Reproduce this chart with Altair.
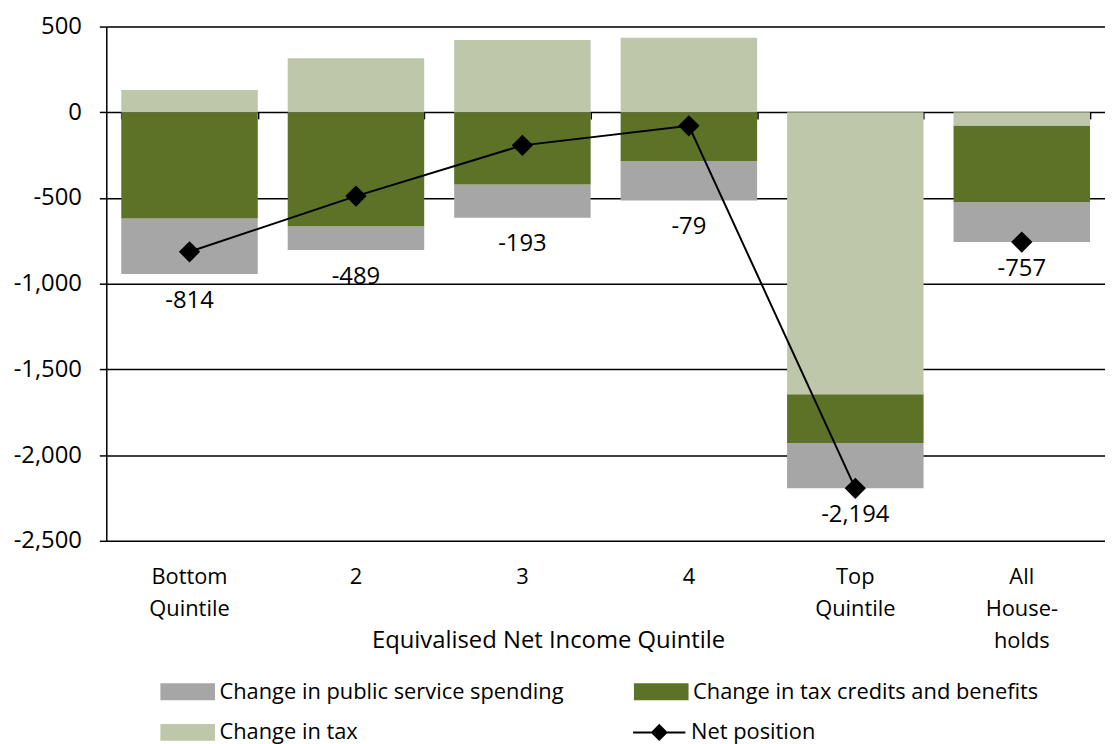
import altair as alt
import pandas as pd

categories = ["Bottom\nQuintile", "2", "3", "4", "Top\nQuintile", "All\nHouse-\nholds"]
series_names = ["Change in public service spending", "Change in tax credits and benefits", "Change in tax"]
series_colors = ["#A6A6A6", "#5B7227", "#BEC7AA"]
# stacking order from zero outward: tax, credits, spending
stack_rank = {"Change in tax": 0, "Change in tax credits and benefits": 1, "Change in public service spending": 2}

tax = [130, 315, 422, 435, -1645, -77]
credits = [-620, -665, -422, -284, -285, -447]
spending = [-324, -139, -193, -230, -264, -233]
net = [-814, -489, -193, -79, -2194, -757]
# the net-position line joins the five quintiles only
line_categories = categories[:5]

rows = []
for i, c in enumerate(categories):
    for s, vals in zip(series_names, [spending, credits, tax]):
        rows.append({"category": c, "series": s, "value": vals[i], "rank": stack_rank[s]})
bars_df = pd.DataFrame(rows)

net_df = pd.DataFrame({
    "category": categories,
    "net": net,
    "name": ["Net position"] * len(categories),
    "label": [f"{v:,}" for v in net],
    "bottom": [sum(min(v, 0) for v in (tax[i], credits[i], spending[i])) for i in range(len(categories))],
})
line_df = net_df[net_df["category"].isin(line_categories)]

FONT = "Open Sans"
y_scale = alt.Scale(domain=[-2500, 500], nice=False, zero=False)
x_scale = alt.Scale(paddingInner=0.18, paddingOuter=0.09)
y_axis = alt.Axis(
    values=[500, 0, -500, -1000, -1500, -2000, -2500],
    labelExpr="replace(format(datum.value, ',.0f'), '\u2212', '-')",
    grid=True, gridColor="black", gridWidth=1.5,
    domain=True, domainColor="black", domainWidth=1.5,
    ticks=True, tickColor="black", tickSize=7, tickWidth=1.5,
    labelFontSize=24, labelFont=FONT, labelColor="black", labelPadding=18,
    title=None,
)

bar_symbol = "M-3.235,-1H3.235V1H-3.235Z"
net_symbol = "M-3.1,0H3.1M0,-0.85L0.85,0L0,0.85L-0.85,0Z"

bars = alt.Chart(bars_df).mark_bar().encode(
    x=alt.X("category:N", sort=categories, scale=x_scale, axis=alt.Axis(
        labelExpr="split(datum.label, '\\n')",
        labelAngle=0, labelFontSize=22, labelFont=FONT, labelColor="black",
        labelLineHeight=32, labelPadding=26, labelBaseline="top",
        ticks=False, domain=False, grid=False,
        title="Equivalised Net Income Quintile", titleFont=FONT, titleFontSize=24,
        titleFontWeight="normal", titleColor="black",
        titleX=445, titleY=100, titleBaseline="middle", titleAlign="center", titleAnchor="start",
    )),
    y=alt.Y("value:Q", scale=y_scale, axis=y_axis, stack="zero"),
    color=alt.Color("series:N", scale=alt.Scale(domain=series_names, range=series_colors),
                    legend=alt.Legend(
                        orient="none", legendX=71, legendY=659, columns=2, direction="horizontal",
                        title=None,
                        symbolType=bar_symbol, symbolSize=289, symbolStrokeWidth=0,
                        labelOffset=21, labelFont=FONT, labelFontSize=22, labelColor="black",
                        columnPadding=70, rowPadding=19, padding=0, labelLimit=600,
                    )),
    order=alt.Order("rank:Q", sort="ascending"),
)

line = alt.Chart(line_df).mark_line(strokeWidth=2).encode(
    x=alt.X("category:N", sort=categories, scale=x_scale, axis=None),
    y=alt.Y("net:Q", scale=y_scale, axis=y_axis),
    stroke=alt.Stroke("name:N", scale=alt.Scale(domain=["Net position"], range=["black"]),
                      legend=alt.Legend(
                          orient="none", legendX=546, legendY=700, title=None,
                          symbolType=net_symbol, symbolSize=289, symbolStrokeWidth=2,
                          symbolFillColor="black", symbolStrokeColor="black",
                          labelOffset=21, labelFont=FONT, labelFontSize=22, labelColor="black",
                          padding=0, labelLimit=600,
                      )),
)

points = alt.Chart(net_df).mark_point(shape="diamond", filled=True, size=460, color="black", opacity=1).encode(
    x=alt.X("category:N", sort=categories, scale=x_scale, axis=None),
    y=alt.Y("net:Q", scale=y_scale, axis=y_axis),
)

labels = alt.Chart(net_df).mark_text(font=FONT, fontSize=24, color="black", dy=27, baseline="middle").encode(
    x=alt.X("category:N", sort=categories, scale=x_scale, axis=alt.Axis(
        orient="bottom", offset=-432, labels=False, domain=False, grid=False,
        ticks=True, tickBand="extent", tickSize=7, tickColor="black", tickWidth=1.5, title=None,
    )),
    y=alt.Y("bottom:Q", scale=y_scale, axis=y_axis),
    text="label:N",
)

chart = alt.layer(bars, line, points, labels).resolve_axis(x="independent").properties(
    width=1006, height=518,
    autosize=alt.AutoSizeParams(type="none"),
    padding={"left": 99, "top": 16, "right": 0, "bottom": 206},
).configure_view(stroke=None).configure(font=FONT)

chart.save("out.html", embed_options={"renderer": "svg", "actions": False})
